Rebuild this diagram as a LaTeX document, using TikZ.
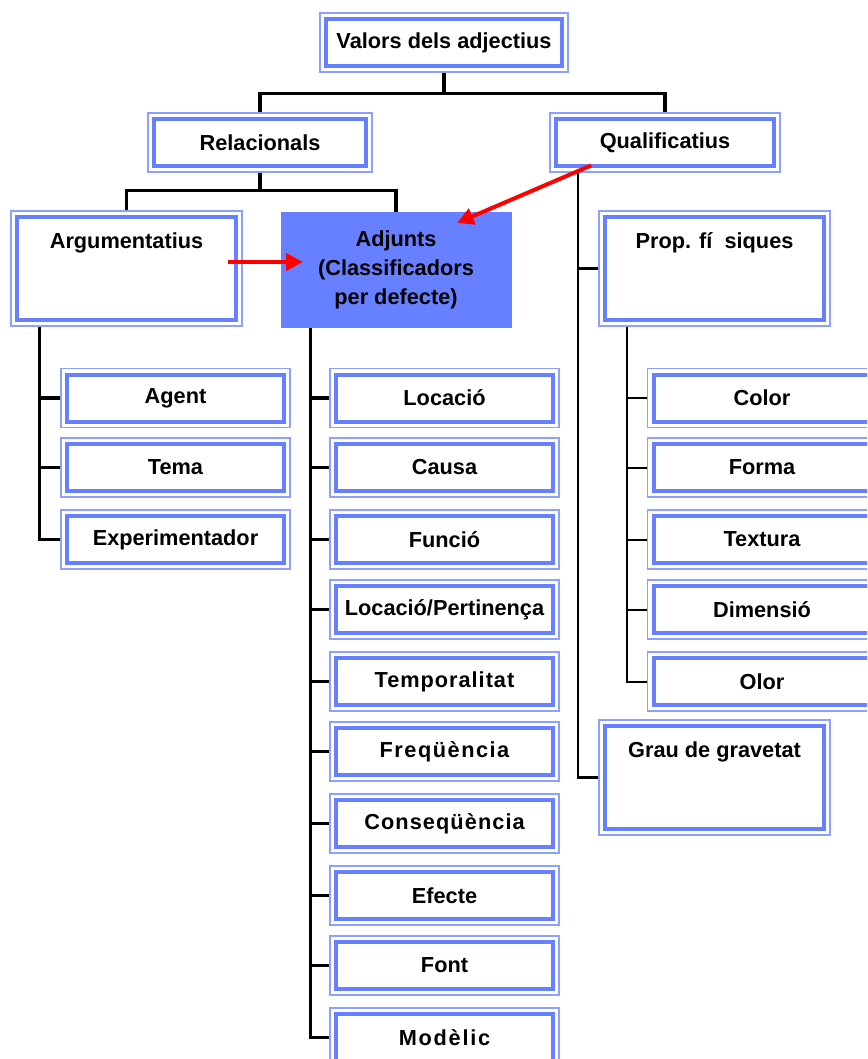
\documentclass[tikz,border=0pt]{standalone}
\usepackage{fontspec}
\setmainfont{Liberation Sans}
\usetikzlibrary{arrows.meta}
\definecolor{boxblue}{RGB}{102,128,255}
\definecolor{boxpale}{RGB}{140,160,255}
\definecolor{arrred}{RGB}{255,0,0}
\newcommand{\spaced}[2]{{\addfontfeature{LetterSpace=#1}#2}}

\begin{document}
\begin{tikzpicture}[x=0.75pt,y=-0.75pt]
	\tikzstyle{every node}=[inner xsep=0pt, font=\fontsize{16.3}{21.75}\selectfont\bfseries, align=center]
	\tikzstyle{bx}=[draw=boxpale, line width=1.1pt, fill=white, minimum width=171.75pt, minimum height=44.25pt,
		path picture={\draw[boxblue, line width=3pt] ([shift={(4.5pt,-4.5pt)}]path picture bounding box.north west) rectangle ([shift={(-4.5pt,4.5pt)}]path picture bounding box.south east);}]
	\tikzstyle{tallbx}=[bx, minimum width=173.25pt, minimum height=86.25pt, inner ysep=0pt, text height=27.75pt, text depth=58.5pt]
	\tikzstyle{trunk}=[draw, line width=2.4pt]
	\tikzstyle{redarr}=[draw=arrred, line width=3pt, -{Triangle[length=12.5pt,width=12.5pt]}]
	\useasboundingbox (0,0) rectangle (867,1059);
	\clip (0,0) rectangle (867,1059);
	% top levels
	\draw (444,42.5) node (val) [bx, minimum width=186pt] {Valors dels adjectius};
	\draw (260,142.5) node (rel) [bx, minimum width=168pt] {Relacionals};
	\draw (665,142.5) node (qual) [bx, minimum width=172.5pt] {Qualificatius};
	\draw (126.5,268.5) node (arg) [tallbx] {Argumentatius};
	\draw (396,270) node (adj) [fill=boxblue, minimum width=173.25pt, minimum height=86.25pt] {Adjunts\\(Classificadors\\per defecte)};
	\draw (714.5,268.5) node (prop) [tallbx] {Prop. fí\ \ siques};
	\draw (714.5,777.5) node (grau) [tallbx] {Grau de gravetat};
	% argumentals
	\draw (175.5,398) node (agent) [bx] {Agent};
	\draw (175.5,467.5) node (tema) [bx] {Tema};
	\draw (175.5,539.5) node (exper) [bx] {Experimentador};
	% adjunts
	\draw (444.5,398) node (loc) [bx] {Locació};
	\draw (444.5,467.5) node (causa) [bx] {Causa};
	\draw (444.5,539.5) node (funcio) [bx] {Funció};
	\draw (444.5,609.5) node (locper) [bx] {Locació/Pertinença};
	\draw (444.5,681.5) node (temp) [bx] {\spaced{4.5}{Temporalitat}};
	\draw (444.5,751.5) node (freq) [bx] {\spaced{7}{Freqüència}};
	\draw (444.5,823.5) node (conseq) [bx] {\spaced{5}{Conseqüència}};
	\draw (444.5,895.5) node (efecte) [bx] {Efecte};
	\draw (444.5,965.5) node (font) [bx] {Font};
	\draw (444.5,1037.5) node (model) [bx] {\spaced{8}{Modèlic}};
	% propietats fisiques
	\draw (762,398) node (color) [bx] {Color};
	\draw (762,467.5) node (forma) [bx] {Forma};
	\draw (762,539.5) node (text) [bx] {Textura};
	\draw (762,609.5) node (dim) [bx] {Dimensió};
	\draw (762,681.5) node (olor) [bx] {Olor};
	% connectors
	\draw[trunk] (val.south) -- ++(0,21) -| (rel.north);
	\draw[trunk] (val.south) -- ++(0,21) -| (qual.north);
	\draw[trunk] (rel.south) -- ++(0,18) -| (arg.north);
	\draw[trunk] (rel.south) -- ++(0,18) -| (adj.north);
	\draw[trunk] (arg.south west) ++(29,0) coordinate (atrunk) |- (exper.west);
	\draw[trunk] (atrunk |- agent.west) -- (agent.west);
	\draw[trunk] (atrunk |- tema.west) -- (tema.west);
	\draw[trunk] (adj.south west) ++(30,0) coordinate (jtrunk) |- (model.west);
	\draw[trunk] (jtrunk |- loc.west) -- (loc.west);
	\draw[trunk] (jtrunk |- causa.west) -- (causa.west);
	\draw[trunk] (jtrunk |- funcio.west) -- (funcio.west);
	\draw[trunk] (jtrunk |- locper.west) -- (locper.west);
	\draw[trunk] (jtrunk |- temp.west) -- (temp.west);
	\draw[trunk] (jtrunk |- freq.west) -- (freq.west);
	\draw[trunk] (jtrunk |- conseq.west) -- (conseq.west);
	\draw[trunk] (jtrunk |- efecte.west) -- (efecte.west);
	\draw[trunk] (jtrunk |- font.west) -- (font.west);
	\draw[trunk, line width=1.7pt] (qual.south west) ++(29,0) coordinate (qtrunk) |- (grau.west);
	\draw[trunk, line width=1.7pt] (qtrunk |- prop.west) -- (prop.west);
	\draw[trunk, line width=1.5pt] (prop.south west) ++(29,0) coordinate (ptrunk) |- (olor.west);
	\draw[trunk, line width=1.5pt] (ptrunk |- color.west) -- (color.west);
	\draw[trunk, line width=1.5pt] (ptrunk |- forma.west) -- (forma.west);
	\draw[trunk, line width=1.5pt] (ptrunk |- text.west) -- (text.west);
	\draw[trunk, line width=1.5pt] (ptrunk |- dim.west) -- (dim.west);
	% red arrows
	\coordinate (argtail) at ([xshift=-11pt]arg.east |- 0,262);
	\coordinate (adjtip) at ([xshift=17pt]adj.west |- 0,262);
	\draw[redarr] (argtail) -- (adjtip);
	\coordinate (qualtail) at ([shift={(31.5pt,5.5pt)}]qual.south west);
	\coordinate (adjtip2) at (457,223);
	\draw[redarr] (qualtail) -- (adjtip2);
\end{tikzpicture}
\end{document}
